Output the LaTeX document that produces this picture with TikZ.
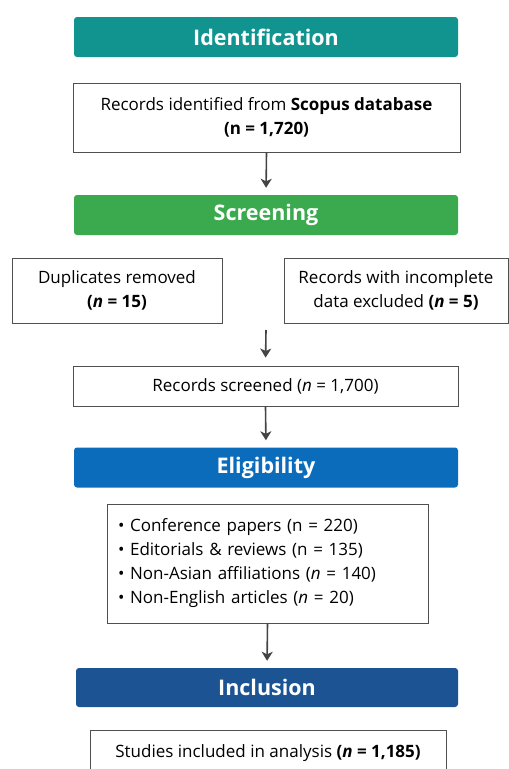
\documentclass[tikz,border=0pt]{standalone}
\usepackage{fontspec}
\setmainfont{Open Sans}
\usetikzlibrary{arrows.meta}
\definecolor{cIdent}{HTML}{11948F}
\definecolor{cScreen}{HTML}{3BA94D}
\definecolor{cElig}{HTML}{0C6CBC}
\definecolor{cIncl}{HTML}{1B5393}
\definecolor{cLine}{HTML}{505050}
\definecolor{cArrow}{HTML}{444444}
\newcommand{\bn}{\textbf{\textit{n}}}
\begin{document}
\begin{tikzpicture}[x=1pt,y=-1pt,
  bar/.style={rounded corners=3pt, minimum width=384pt, minimum height=40pt, inner sep=0pt,
    text=white, font=\fontsize{21.5}{24}\selectfont\bfseries},
  box/.style={draw=cLine, line width=0.9pt, fill=white, inner sep=0pt, align=center,
    font=\fontsize{17}{24}\selectfont},
  arr/.style={draw=cArrow, line width=1.6pt, -{Stealth[length=9pt,width=11pt,inset=2.5pt]}, shorten >=7pt}]
\useasboundingbox (0,0) rectangle (509,769);
\fill[white] (0,0) rectangle (509,769);

\node[bar, fill=cIdent] (ident) at (266,37) {Identification};
\node[box, minimum width=387pt, minimum height=69pt] (rec) at (266.5,117.5)
  {Records identified from \textbf{Scopus database}\\\textbf{(n = 1,720)}};
\node[bar, fill=cScreen] (screen) at (266,215) {Screening};
\node[box, minimum width=210pt, minimum height=65pt] (dup) at (117,290.5)
  {Duplicates removed\\\textbf{(\bn{} = 15)}};
\node[box, minimum width=224pt, minimum height=65pt] (inc) at (396,290.5)
  {Records with incomplete\\data excluded \textbf{(\bn{} = 5)}};
\coordinate (mid) at (266,330);
\node[box, minimum width=385pt, minimum height=40pt] (scr) at (265.5,386)
  {Records screened (\textit{n} = 1,700)};
\node[bar, fill=cElig] (elig) at (266,467.5) {Eligibility};
\node[box, minimum width=321pt, minimum height=119pt, text width=299pt, align=left, inner xsep=11pt] (list) at (267.5,563.5)
  {\textbullet\ Conference papers (n = 220)\\
   \textbullet\ Editorials \& reviews (n = 135)\\
   \textbullet\ Non-Asian affiliations (\textit{n} = 140)\\
   \textbullet\ Non-English articles (\textit{n} = 20)};
\node[bar, fill=cIncl, minimum width=382pt, minimum height=39pt] (incl) at (267,687.5) {Inclusion};
\node[box, minimum width=356pt, minimum height=46pt] (stud) at (268,753)
  {Studies included in analysis \textbf{(\bn{} = 1,185)}};

\draw[arr] (rec.south) -- (screen.north);
\draw[arr, shorten >=8pt] (mid) -- (scr.north);
\draw[arr] (scr.south) -- (elig.north);
\draw[arr] (list.south) -- (incl.north);
\end{tikzpicture}
\end{document}
